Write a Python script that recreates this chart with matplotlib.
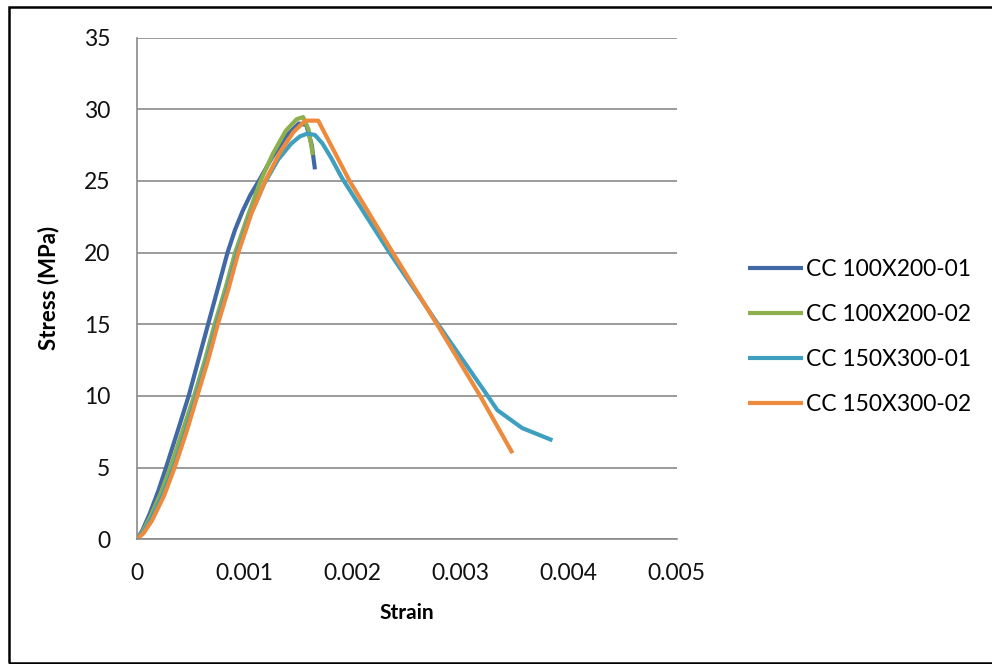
import matplotlib.pyplot as plt
from matplotlib.patches import Rectangle

# stress-strain curves, strain (-) vs stress (MPa)
strain_100_01 = [0, 0.00005, 0.00012, 0.00020, 0.00027, 0.00038, 0.00048, 0.00057, 0.00066,
                 0.00075, 0.00084, 0.00091, 0.00098, 0.00105, 0.00113, 0.00125, 0.00138,
                 0.00150, 0.00157, 0.00162, 0.00165]
stress_100_01 = [0, 0.6, 1.8, 3.4, 5.0, 7.6, 10.0, 12.5, 15.0,
                 17.5, 20.0, 21.6, 22.9, 24.0, 25.0, 26.6, 28.1,
                 29.0, 28.9, 27.5, 25.8]

strain_100_02 = [0, 0.00005, 0.00012, 0.00022, 0.00031, 0.00042, 0.00053, 0.00063, 0.00072,
                 0.00082, 0.00091, 0.00103, 0.00114, 0.00126, 0.00138, 0.00148, 0.00154,
                 0.00159, 0.00163]
stress_100_02 = [0, 0.5, 1.5, 3.2, 5.0, 7.5, 10.0, 12.5, 15.0,
                 17.5, 20.0, 22.6, 24.9, 26.9, 28.5, 29.3, 29.45,
                 28.6, 26.8]

strain_150_01 = [0, 0.00006, 0.00013, 0.00024, 0.00034, 0.00045, 0.00055, 0.00065, 0.00074,
                 0.00084, 0.00093, 0.00105, 0.00118, 0.00131, 0.00143, 0.00151, 0.00158,
                 0.00165, 0.00172, 0.00180, 0.00190, 0.00234, 0.00279, 0.00325, 0.00334,
                 0.00357, 0.00385]
stress_150_01 = [0, 0.5, 1.4, 3.1, 5.0, 7.5, 10.0, 12.5, 15.0,
                 17.5, 20.0, 22.6, 24.8, 26.5, 27.6, 28.1, 28.3,
                 28.2, 27.6, 26.6, 25.2, 20.0, 15.0, 10.0, 9.0,
                 7.75, 6.9]

strain_150_02 = [0, 0.00006, 0.00014, 0.00025, 0.00035, 0.00046, 0.00056, 0.00066, 0.00075,
                 0.00085, 0.00094, 0.00106, 0.00119, 0.00132, 0.00145, 0.00156, 0.00168,
                 0.00197, 0.00237, 0.00278, 0.00318, 0.00348]
stress_150_02 = [0, 0.4, 1.3, 3.0, 5.0, 7.5, 10.0, 12.5, 15.0,
                 17.5, 20.0, 22.7, 25.0, 26.9, 28.4, 29.2, 29.2,
                 25.0, 20.0, 15.0, 10.0, 6.0]

labels = ["CC 100X200-01", "CC 100X200-02", "CC 150X300-01", "CC 150X300-02"]
colors = ["#4169A6", "#8DB04D", "#3E9FBE", "#EE8A3C"]

x_ticks = [0, 0.001, 0.002, 0.003, 0.004, 0.005]
x_ticklabels = ["0", "0.001", "0.002", "0.003", "0.004", "0.005"]
y_ticks = [0, 5, 10, 15, 20, 25, 30, 35]

plt.rcParams["font.family"] = ["Lato", "DejaVu Sans"]

fig = plt.figure(figsize=(9.92, 6.64), dpi=100)
ax = fig.add_axes([0.138, 0.188, 0.544, 0.7555])

series = [
    (strain_100_01, stress_100_01),
    (strain_100_02, stress_100_02),
    (strain_150_01, stress_150_01),
    (strain_150_02, stress_150_02),
]
for (x, y), lab, c in zip(series, labels, colors):
    ax.plot(x, y, color=c, lw=3.0, label=lab, solid_capstyle="butt")

ax.set_xlim(0, 0.005)
ax.set_ylim(0, 35)
ax.set_xticks(x_ticks)
ax.set_xticklabels(x_ticklabels)
ax.set_yticks(y_ticks)
ax.yaxis.grid(True, color="#8a8a8a", lw=1.2)
ax.set_axisbelow(True)
ax.tick_params(length=0, labelsize=16.5, colors="#111111")
ax.tick_params(axis="x", pad=17)
ax.tick_params(axis="y", pad=19)

for side in ("top", "right"):
    ax.spines[side].set_visible(False)
for side in ("left", "bottom"):
    ax.spines[side].set_color("#8a8a8a")
    ax.spines[side].set_linewidth(1.2)

ax.set_xlabel("Strain", fontsize=15, fontweight="bold", labelpad=14)
ax.set_ylabel("Stress (MPa)", fontsize=16, fontweight="bold", labelpad=18)

fig.legend(loc="center left", bbox_to_anchor=(0.733, 0.493), frameon=False,
           fontsize=16.5, handlelength=2.4, handletextpad=0.15, labelspacing=1.05)

# outer chart frame
fig.patches.append(Rectangle((0.009, 0.002), 1.2, 0.987, transform=fig.transFigure,
                             fill=False, edgecolor="black", lw=1.8))

fig.savefig("out.png", dpi=100)
